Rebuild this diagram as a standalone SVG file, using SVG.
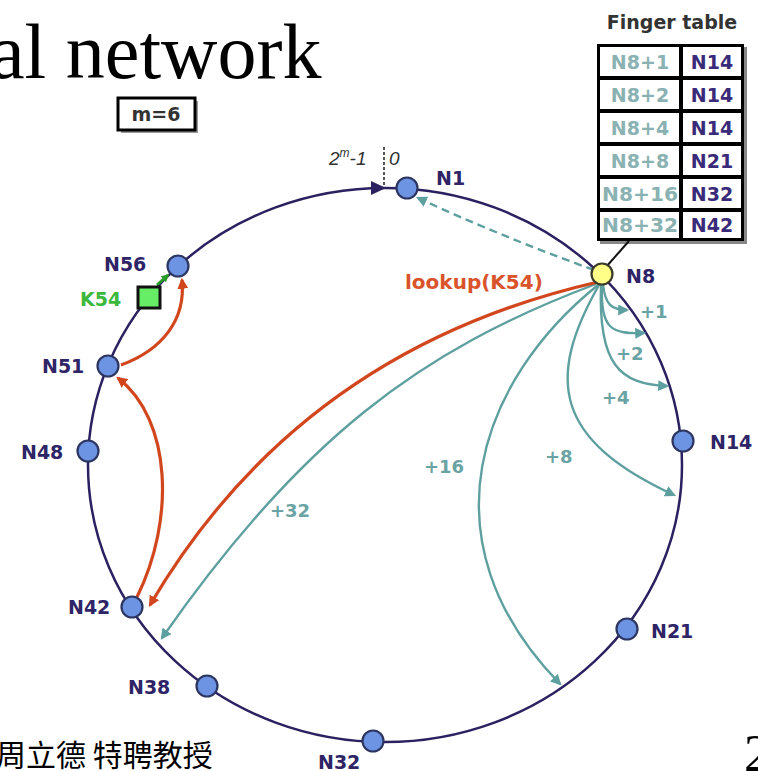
<svg xmlns="http://www.w3.org/2000/svg" width="758" height="771" viewBox="0 0 758 771">
<style>
.lbl{font-family:"DejaVu Sans",Verdana,sans-serif;font-weight:bold;font-size:19px;fill:#2e2466}
.fg{font-family:"DejaVu Sans",Verdana,sans-serif;font-weight:bold;font-size:18px;fill:#6aa3a3}
.node{fill:#6d93e3;stroke:#2d3561;stroke-width:2.2}
.or{fill:none;stroke:#d2461e;stroke-width:3.2;marker-end:url(#ao)}
.tl{fill:none;stroke:#5e9f9f;stroke-width:2.4;marker-end:url(#at)}
.cl{font-family:"DejaVu Sans",Verdana,sans-serif;font-weight:bold;font-size:19px;fill:#8ab2b2;text-anchor:middle}
.cr{font-family:"DejaVu Sans",Verdana,sans-serif;font-weight:bold;font-size:19px;fill:#3a2a7a;text-anchor:middle}
</style>
<defs>
<marker id="ao" viewBox="0 0 10 10" refX="8" refY="5" markerWidth="11" markerHeight="11" markerUnits="userSpaceOnUse" orient="auto"><path d="M0,0 L10,5 L0,10 z" fill="#d2461e"/></marker>
<marker id="at" viewBox="0 0 10 10" refX="8" refY="5" markerWidth="11" markerHeight="11" markerUnits="userSpaceOnUse" orient="auto"><path d="M0,0 L10,5 L0,10 z" fill="#5e9f9f"/></marker>
<marker id="ag" viewBox="0 0 10 10" refX="8" refY="5" markerWidth="8" markerHeight="8" markerUnits="userSpaceOnUse" orient="auto"><path d="M0,0 L10,5 L0,10 z" fill="#2a9a2a"/></marker>
</defs>
<rect width="758" height="771" fill="#ffffff"/>
<text x="-10" y="78" font-family="Liberation Serif,'Times New Roman',serif" font-size="78" fill="#000">al network</text>
<text x="-4" y="766" font-family="'Noto Sans CJK TC','Noto Sans CJK SC',sans-serif" font-size="30" fill="#000">周立德 特聘教授</text>
<text x="744" y="771" font-family="Liberation Serif,serif" font-size="52" fill="#000">2</text>

<g id="ring">
<ellipse cx="385" cy="465" rx="297" ry="277" fill="none" stroke="#2b2060" stroke-width="2.5"/>
<polygon points="371,181 386,188 371,195" fill="#2b2060"/>
<line x1="384" y1="147" x2="384" y2="186" stroke="#555" stroke-width="2" stroke-dasharray="3,2"/>
<text x="329" y="165" font-family="Liberation Sans,Arial,sans-serif" font-style="italic" font-size="19" fill="#333">2<tspan font-size="12" dy="-8">m</tspan><tspan dy="8">-1</tspan></text>
<text x="389" y="165" font-family="Liberation Sans,Arial,sans-serif" font-style="italic" font-size="19" fill="#333">0</text>
</g>

<g id="mbox">
<rect x="121" y="101" width="77" height="32" fill="#999"/>
<rect x="118" y="98" width="77" height="32" fill="#fff" stroke="#000" stroke-width="3"/>
<text x="156" y="121" text-anchor="middle" font-family="DejaVu Sans,Verdana,sans-serif" font-weight="bold" font-size="19" fill="#333">m=6</text>
</g>

<g id="finger-table">
<text x="672" y="29" text-anchor="middle" font-family="DejaVu Sans,Verdana,sans-serif" font-weight="bold" font-size="19" fill="#333">Finger table</text>
<rect x="600" y="47" width="147" height="197" fill="#888"/>
<rect x="597" y="44" width="147" height="197" fill="#000"/>
<g fill="#fff">
<rect x="600" y="47" width="79" height="29"/><rect x="683" y="47" width="58" height="29"/>
<rect x="600" y="80" width="79" height="29"/><rect x="683" y="80" width="58" height="29"/>
<rect x="600" y="113" width="79" height="29"/><rect x="683" y="113" width="58" height="29"/>
<rect x="600" y="146" width="79" height="29"/><rect x="683" y="146" width="58" height="29"/>
<rect x="600" y="179" width="79" height="29"/><rect x="683" y="179" width="58" height="29"/>
<rect x="600" y="212" width="79" height="26"/><rect x="683" y="212" width="58" height="26"/>
</g>
<text class="cl" x="640" y="69">N8+1</text><text class="cr" x="712" y="69">N14</text>
<text class="cl" x="640" y="102">N8+2</text><text class="cr" x="712" y="102">N14</text>
<text class="cl" x="640" y="135">N8+4</text><text class="cr" x="712" y="135">N14</text>
<text class="cl" x="640" y="168">N8+8</text><text class="cr" x="712" y="168">N21</text>
<text class="cl" x="640" y="201" textLength="76" lengthAdjust="spacingAndGlyphs">N8+16</text><text class="cr" x="712" y="201">N32</text>
<text class="cl" x="640" y="232" textLength="76" lengthAdjust="spacingAndGlyphs">N8+32</text><text class="cr" x="712" y="232">N42</text>
<line x1="629" y1="241" x2="606" y2="267" stroke="#111" stroke-width="2"/>
</g>

<g id="connectors">
<path class="tl" d="M594,270 Q500,236 418,198" stroke-dasharray="8,5"/>
<path class="tl" d="M603,284 C605,305 612,310 627,310"/>
<path class="tl" d="M602,285 C600,330 612,334 644,333"/>
<path class="tl" d="M601,285 C598,365 620,384 667,386"/>
<path class="tl" d="M599,285 C545,380 555,440 674,495"/>
<path class="tl" d="M598,285 C480,380 420,540 560,684"/>
<path class="tl" d="M596,284 C420,350 300,440 162,638"/>
<path class="or" d="M598,282 Q300,350 150,605"/>
<path class="or" d="M137,597 C175,520 172,420 118,378"/>
<path class="or" d="M121,365 C162,350 186,320 182,280"/>
<path d="M157,285 L168,275" stroke="#2a9a2a" stroke-width="3" fill="none" marker-end="url(#ag)"/>
</g>

<g id="conn-labels">
<text class="fg" x="640" y="318">+1</text>
<text class="fg" x="616" y="360">+2</text>
<text class="fg" x="602" y="404">+4</text>
<text class="fg" x="545" y="463">+8</text>
<text class="fg" x="424" y="473">+16</text>
<text class="fg" x="270" y="517">+32</text>
<text x="405" y="289" font-family="DejaVu Sans,Verdana,sans-serif" font-weight="bold" font-size="20" fill="#d9532b">lookup(K54)</text>
</g>

<g id="N1"><circle class="node" cx="407" cy="188" r="10.5"/><text class="lbl" x="436" y="185">N1</text></g>
<g id="N8"><circle cx="602" cy="274" r="10.5" fill="#ffff88" stroke="#3a3a2a" stroke-width="2.2"/><text class="lbl" x="626" y="283">N8</text></g>
<g id="N14"><circle class="node" cx="683" cy="441" r="10.5"/><text class="lbl" x="710" y="449">N14</text></g>
<g id="N21"><circle class="node" cx="627" cy="629" r="10.5"/><text class="lbl" x="651" y="638">N21</text></g>
<g id="N32"><circle class="node" cx="373" cy="741" r="10.5"/><text class="lbl" x="318" y="769">N32</text></g>
<g id="N38"><circle class="node" cx="207" cy="686" r="10.5"/><text class="lbl" x="128" y="694">N38</text></g>
<g id="N42"><circle class="node" cx="132" cy="607" r="10.5"/><text class="lbl" x="68" y="614">N42</text></g>
<g id="N48"><circle class="node" cx="88" cy="451" r="10.5"/><text class="lbl" x="21" y="459">N48</text></g>
<g id="N51"><circle class="node" cx="108" cy="366" r="10.5"/><text class="lbl" x="42" y="373">N51</text></g>
<g id="N56"><circle class="node" cx="178" cy="266" r="10.5"/><text class="lbl" x="104" y="271">N56</text></g>
<g id="K54"><rect x="138" y="287" width="22" height="21" fill="#66ee66" stroke="#111" stroke-width="3"/><text x="80" y="306" font-family="DejaVu Sans,Verdana,sans-serif" font-weight="bold" font-size="19" fill="#3cb83c">K54</text></g>
</svg>
